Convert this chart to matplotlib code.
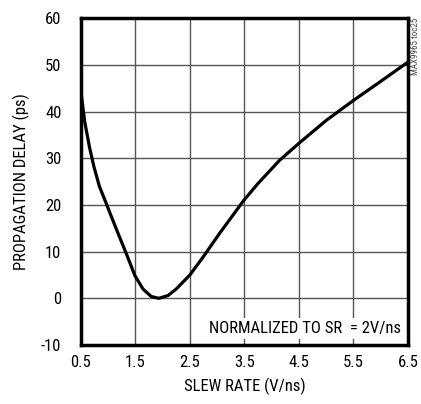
import numpy as np
import matplotlib
matplotlib.use("Agg")
import matplotlib.pyplot as plt

plt.rcParams['font.family'] = ['Roboto Condensed', 'DejaVu Sans']

# propagation delay vs slew rate
slew_rate = [0.5, 0.57, 0.66, 0.74, 0.84, 0.96, 1.05, 1.18, 1.34, 1.49, 1.64,
             1.79, 1.93, 2.10, 2.25, 2.5, 2.74, 3.05, 3.17, 3.49, 3.75, 4.14,
             4.5, 5.0, 5.49, 5.98, 6.5]
delay = [44.5, 37.9, 32.3, 28.2, 24.0, 20.5, 17.8, 14.0, 9.4, 4.9, 2.0,
         0.4, 0.0, 0.6, 2.0, 5.0, 8.8, 14.0, 15.9, 21.0, 24.6, 29.5,
         33.2, 38.1, 42.3, 46.3, 50.6]

xticks = [0.5, 1.5, 2.5, 3.5, 4.5, 5.5, 6.5]
yticks = [-10, 0, 10, 20, 30, 40, 50, 60]

fig = plt.figure(figsize=(4.21, 4.04), dpi=100)
ax = fig.add_axes([0.192, 0.146, 0.777, 0.809])

ax.plot(slew_rate, delay, color='black', linewidth=2.3,
        solid_capstyle='round', solid_joinstyle='round', zorder=3)

ax.set_xlim(0.5, 6.5)
ax.set_ylim(-10, 60)
ax.set_xticks(xticks)
ax.set_yticks(yticks)
ax.set_xticklabels([str(t) for t in xticks])
ax.set_yticklabels([str(t) for t in yticks])
ax.tick_params(length=0, labelsize=12)
ax.tick_params(axis='x', pad=7)
ax.tick_params(axis='y', pad=14)
ax.grid(True, color='#555555', linewidth=1.0)
ax.set_axisbelow(True)
for s in ax.spines.values():
    s.set_linewidth(2.5)

ax.set_xlabel('SLEW RATE (V/ns)', fontsize=12, labelpad=6)
ax.set_ylabel('PROPAGATION DELAY (ps)', fontsize=12, labelpad=8)

ax.text(6.38, -6.4, 'NORMALIZED TO SR  = 2V/ns', ha='right', va='center', fontsize=12,
        bbox=dict(facecolor='white', edgecolor='none', pad=2), zorder=4)

fig.text(0.988, 0.955, 'MAX9965 toc25', rotation=90, ha='center', va='top',
         fontsize=6.5, color='#444444')

fig.savefig('out.png', dpi=100)
